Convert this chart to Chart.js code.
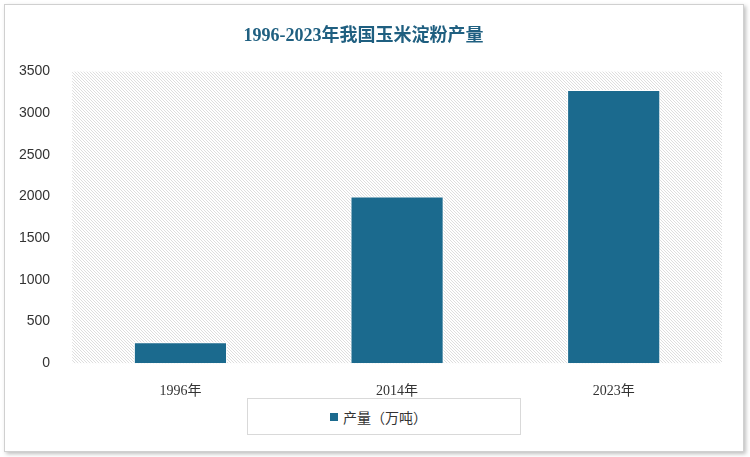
<!DOCTYPE html>
<html>
<head>
<meta charset="utf-8">
<script src="https://cdn.jsdelivr.net/npm/chart.js@4"></script>
<style>
  body { margin: 0; background: #fff; }
  #wrap { position: absolute; left: 4px; top: 4px; width: 738px; height: 446px; border: 1px solid #d0d0d0; box-shadow: 2px 2px 4px rgba(0,0,0,0.25); background: #fff; }
  #legendBox { position: absolute; left: 247px; top: 398px; width: 274px; height: 37px; border: 1px solid #d9d9d9; font: 14px "Noto Sans CJK SC", sans-serif; color: #333; display: flex; align-items: center; padding-left: 82px; box-sizing: border-box; background: #fff; }
  #legendBox span.sw { display: inline-block; width: 8px; height: 8px; background: #1b6a8e; margin-right: 5px; }
</style>
</head>
<body>
<div id="wrap"></div>
<canvas id="chart" width="750" height="412" style="position:absolute;left:0;top:0;width:750px;height:412px"></canvas>
<div id="legendBox"><span class="sw"></span>产量（万吨）</div>
<script>
const categories = ['1996年', '2014年', '2023年'];
const values = [250, 2000, 3280];
const yTicks = [0, 500, 1000, 1500, 2000, 2500, 3000, 3500];

function makeHatch(ctx) {
    const c = document.createElement('canvas');
    c.width = 3; c.height = 3;
    const g = c.getContext('2d');
    g.fillStyle = '#fff'; g.fillRect(0, 0, 3, 3);
    g.fillStyle = '#dedede';
    g.fillRect(0, 0, 1, 1); g.fillRect(1, 1, 1, 1); g.fillRect(2, 2, 1, 1);
    return ctx.createPattern(c, 'repeat');
}

const hatchBg = {
    id: 'hatchBg',
    beforeDraw(chart) {
        const { ctx, chartArea: a } = chart;
        ctx.save();
        ctx.fillStyle = makeHatch(ctx);
        ctx.fillRect(a.left, a.top, a.right - a.left, a.bottom - a.top);
        ctx.restore();
    }
};

new Chart(document.getElementById('chart').getContext('2d'), {
    type: 'bar',
    data: {
        labels: categories,
        datasets: [{
            label: '产量（万吨）',
            data: values,
            backgroundColor: '#1b6a8e',
            borderColor: '#ffffff',
            borderWidth: 1,
            categoryPercentage: 1,
            barPercentage: 0.43
        }]
    },
    options: {
        responsive: false,
        animation: false,
        layout: { padding: { left: 5, right: 28, top: 0, bottom: 0 } },
        plugins: {
            legend: { display: false },
            tooltip: { enabled: false },
            title: {
                display: true,
                text: '1996-2023年我国玉米淀粉产量',
                color: '#1f5f80',
                font: { family: "'Liberation Serif', 'Noto Sans CJK SC', serif", size: 18, weight: 'bold' },
                padding: { top: 26, bottom: 24 }
            }
        },
        scales: {
            x: {
                grid: { display: false },
                border: { display: false },
                ticks: { color: '#333', font: { family: "'Liberation Serif', 'Noto Sans CJK SC', serif", size: 14 }, padding: 12 }
            },
            y: {
                min: 0, max: 3500,
                afterBuildTicks: s => { s.ticks = yTicks.map(v => ({ value: v })); },
                grid: { display: false },
                border: { display: false },
                ticks: { color: '#333', font: { family: "'Liberation Sans', sans-serif", size: 14 }, padding: 14, callback: v => String(v) }
            }
        }
    },
    plugins: [hatchBg]
});
</script>
</body>
</html>
